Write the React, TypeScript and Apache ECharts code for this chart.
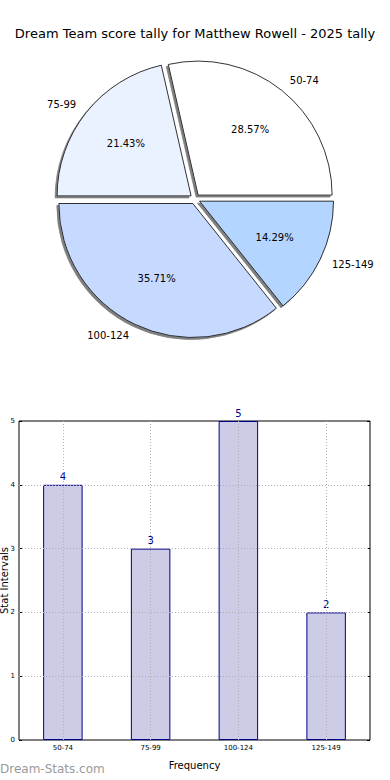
import React, { useEffect, useRef } from "react";
import * as echarts from "echarts";

const titleText = "Dream Team score tally for Matthew Rowell - 2025 tally";
const categories = ["50-74", "75-99", "100-124", "125-149"];
const counts = [4, 3, 5, 2];
const sliceColors = ["#ffffff", "#eaf1ff", "#c6d9ff", "#b3d5ff"];
const gridValues = [1, 2, 3, 4];
const xAxisName = "Frequency";
const yAxisName = "Stat Intervals";
const watermark = "Dream-Stats.com";

const FONT = "DejaVu Sans";

export default function App() {
  const ref = useRef<HTMLDivElement>(null);
  useEffect(() => {
    if (!ref.current) return;
    const chart = echarts.init(ref.current, null, { renderer: "svg" });
    const R = 134;
    const center = [195, 199];
    const pieData = categories.map((c, i) => ({
      name: c,
      value: counts[i],
      selected: true,
      itemStyle: { color: sliceColors[i] },
    }));
    chart.setOption({
      animation: false,
      textStyle: { fontFamily: FONT },
      title: [
        {
          text: titleText,
          left: "center",
          top: 22,
          textStyle: { fontFamily: FONT, fontSize: 13, fontWeight: "normal", color: "#000" },
        },
        {
          text: watermark,
          left: 0,
          top: 763,
          padding: 0,
          textStyle: { fontFamily: FONT, fontSize: 12, fontWeight: "normal", color: "#9a9a9a" },
        },
      ],
      grid: {
        left: 19,
        right: 20,
        top: 421,
        bottom: 40,
        containLabel: false,
        outerBoundsMode: "none",
        show: true,
        borderColor: "#000",
        borderWidth: 1,
        backgroundColor: "transparent",
      },
      xAxis: {
        type: "category",
        data: categories,
        name: xAxisName,
        nameLocation: "middle",
        nameGap: 20,
        nameMoveOverlap: false,
        nameTextStyle: { fontFamily: FONT, fontSize: 10, color: "#000" },
        axisLine: { show: false },
        axisTick: { show: true, inside: true, alignWithLabel: true, length: 3, lineStyle: { color: "#000" } },
        axisLabel: { fontFamily: FONT, fontSize: 7, color: "#000", margin: 4 },
        splitLine: { show: false },
      },
      yAxis: [
        {
          type: "value",
          min: 0,
          max: 5,
          interval: 1,
          name: yAxisName,
          nameLocation: "middle",
          nameGap: 10,
          nameMoveOverlap: false,
          nameTextStyle: { fontFamily: FONT, fontSize: 10, color: "#000" },
          axisLine: { show: false },
          axisTick: { show: true, inside: true, length: 3, lineStyle: { color: "#000" } },
          axisLabel: { fontFamily: FONT, fontSize: 7, color: "#000", margin: 4 },
          splitLine: { show: false },
        },
        {
          type: "value",
          min: 0,
          max: 5,
          interval: 1,
          position: "right",
          axisLine: { show: false },
          axisTick: { show: true, inside: true, length: 3, lineStyle: { color: "#000" } },
          axisLabel: { show: false },
          splitLine: { show: false },
        },
      ],
      series: [
        {
          type: "pie",
          center,
          radius: R,
          startAngle: 0,
          clockwise: false,
          avoidLabelOverlap: false,
          selectedMode: "multiple",
          selectedOffset: 5,
          emphasis: { disabled: true },
          itemStyle: {
            borderColor: "#000",
            borderWidth: 0.8,
            shadowColor: "#7f7f7f",
            shadowOffsetX: -2,
            shadowOffsetY: 2,
            shadowBlur: 0,
          },
          label: {
            show: true,
            position: "outside",
            formatter: "{b}",
            fontFamily: FONT,
            fontSize: 10,
            color: "#000",
            distanceToLabelLine: 0,
          },
          labelLine: { show: false, length: Math.round(R * 0.1), length2: 0 },
          data: pieData,
          z: 2,
        },
        {
          type: "pie",
          center,
          radius: R * 1.2,
          startAngle: 0,
          clockwise: false,
          avoidLabelOverlap: false,
          selectedMode: "multiple",
          selectedOffset: 5,
          silent: true,
          percentPrecision: 2,
          emphasis: { disabled: true },
          itemStyle: { color: "transparent", borderWidth: 0 },
          label: {
            show: true,
            position: "inside",
            formatter: "{d}%",
            fontFamily: FONT,
            fontSize: 10,
            color: "#000",
          },
          labelLine: { show: false },
          data: pieData.map((d) => ({ ...d, itemStyle: { color: "transparent" } })),
          z: 3,
        },
        {
          type: "bar",
          data: counts,
          barWidth: "45%",
          itemStyle: { color: "#ccccE6", borderColor: "#00008b", borderWidth: 1 },
          label: {
            show: true,
            position: "top",
            distance: 3,
            fontFamily: FONT,
            fontSize: 10,
            color: "#00008b",
          },
          emphasis: { disabled: true },
          markLine: {
            silent: true,
            symbol: "none",
            label: { show: false },
            lineStyle: { type: [1, 2], color: "#b0b0b0", width: 1 },
            data: [
              ...categories.map((c) => ({ xAxis: c })),
              ...gridValues.map((v) => ({ yAxis: v })),
            ],
          },
        },
      ],
    });
    return () => chart.dispose();
  }, []);
  return (
    <div
      ref={ref}
      style={{ position: "fixed", left: 0, top: 0, width: 390, height: 780, background: "#fff" }}
    />
  );
}
